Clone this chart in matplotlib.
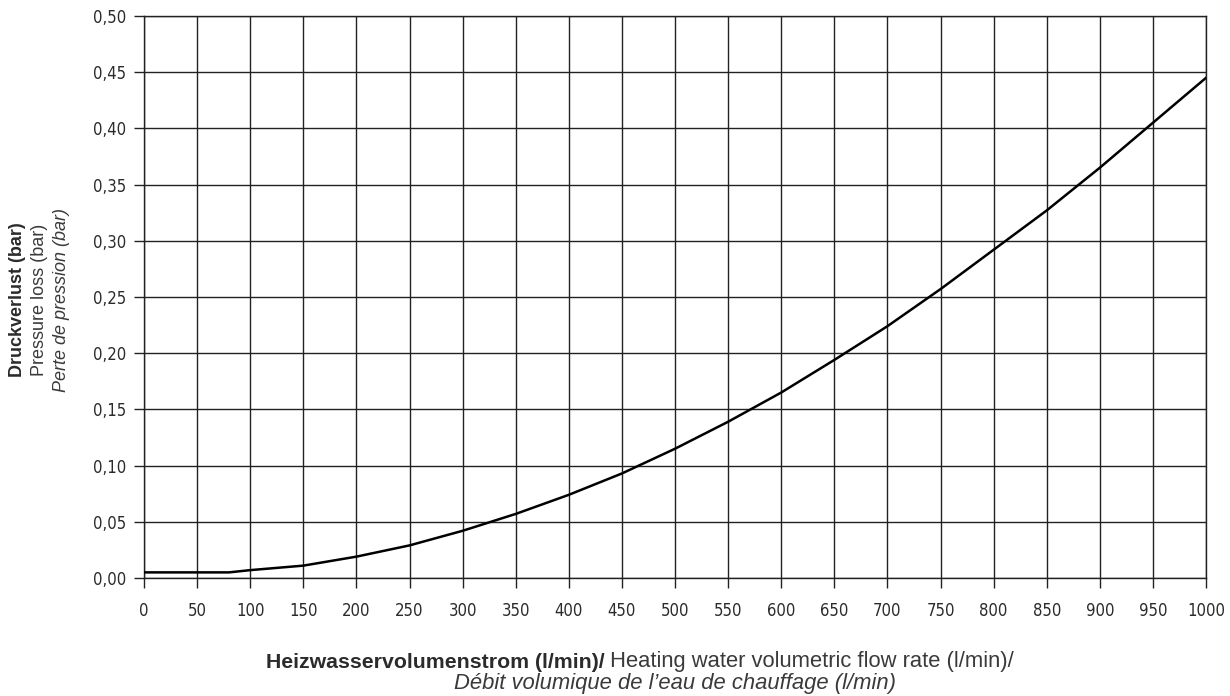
import matplotlib.pyplot as plt
import numpy as np

# Flow rate (l/min) and pressure loss (bar)
flow = [0, 50, 80, 100, 150, 200, 250, 300, 350, 400, 450, 500,
        550, 600, 650, 700, 750, 800, 850, 900, 950, 1000]
loss = [0.005, 0.005, 0.005, 0.007, 0.011, 0.019, 0.029, 0.042, 0.057, 0.074, 0.093, 0.115,
        0.139, 0.165, 0.194, 0.224, 0.257, 0.292, 0.327, 0.365, 0.405, 0.445]

x_ticks = np.arange(0, 1001, 50)
y_ticks = np.arange(0, 0.501, 0.05)

W, H = 1230, 696
txt_color = '#2b2b2b'
light_color = '#3a3a3a'
font = 'Liberation Sans'

fig = plt.figure(figsize=(12.3, 6.96), dpi=100)
ax = fig.add_axes([144 / W, 1 - 578 / H, 1062 / W, 562 / H])

ax.plot(flow, loss, color='black', linewidth=1.8, zorder=3)

ax.set_xlim(0, 1000)
ax.set_ylim(0, 0.5)
ax.set_xticks(x_ticks)
ax.set_yticks(y_ticks)
tick_kw = dict(fontfamily='DejaVu Sans', fontstretch='condensed', fontsize=12, color=txt_color)
ax.set_xticklabels([str(v) for v in x_ticks], **tick_kw)
ax.set_yticklabels([f'{v:.2f}'.replace('.', ',') for v in y_ticks], **tick_kw)
ax.tick_params(axis='both', direction='out', length=7, width=1.0, color='#222222')
ax.tick_params(axis='x', pad=10)
ax.tick_params(axis='y', pad=6)
ax.grid(True, color='#222222', linewidth=1.0)
ax.set_axisbelow(True)
for s in ax.spines.values():
    s.set_color('#222222')
    s.set_linewidth(1.0)

# y-axis label: three stacked lines
yc = 1 - 300 / H
ysize = 13
fig.text(18 / W, yc, 'Druckverlust (bar)', rotation=90, ha='center', va='center',
         fontfamily=font, fontweight='bold', fontsize=ysize, color=txt_color)
fig.text(40 / W, yc, 'Pressure loss (bar)', rotation=90, ha='center', va='center',
         fontfamily=font, fontsize=ysize, color=light_color)
fig.text(62 / W, yc, 'Perte de pression (bar)', rotation=90, ha='center', va='center',
         fontfamily=font, style='italic', fontsize=ysize, color=light_color)

# x-axis label: bold + regular on first line, italic second line
fig.canvas.draw()
renderer = fig.canvas.get_renderer()
xsize = 15.3
t1 = fig.text(0, 1 - 662 / H, 'Heizwasservolumenstrom (l/min)/', ha='left', va='center',
              fontfamily=font, fontweight='bold', fontsize=xsize, color=txt_color)
t2 = fig.text(0, 1 - 662 / H, ' Heating water volumetric flow rate (l/min)/', ha='left', va='center',
              fontfamily=font, fontsize=xsize + 0.5, color=light_color)
w1 = t1.get_window_extent(renderer).width
w2 = t2.get_window_extent(renderer).width
x0 = 640 - (w1 + w2) / 2
t1.set_x(x0 / W)
t2.set_x((x0 + w1) / W)
fig.text(675 / W, 1 - 684 / H, 'Débit volumique de l\u2019eau de chauffage (l/min)', ha='center', va='center',
         fontfamily=font, style='italic', fontsize=xsize + 0.5, color=light_color)

fig.savefig('out.png', dpi=100)
